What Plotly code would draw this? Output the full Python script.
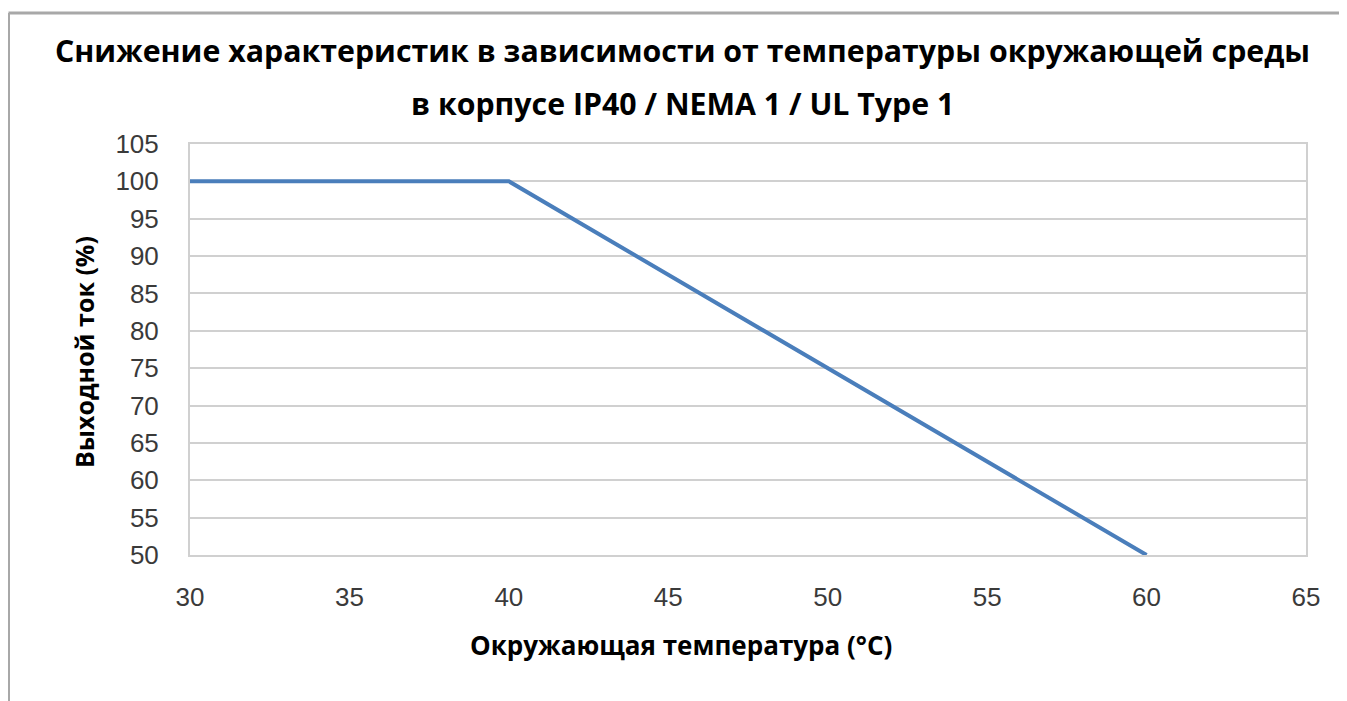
import plotly.graph_objects as go

# Data
temperature_c = [30, 40, 60]
output_current_pct = [100, 100, 50]
x_ticks = [30, 35, 40, 45, 50, 55, 60, 65]
y_ticks = [50, 55, 60, 65, 70, 75, 80, 85, 90, 95, 100, 105]

title_line1 = "Снижение характеристик в зависимости от температуры окружающей среды"
title_line2 = "в корпусе IP40 / NEMA 1 / UL Type 1"
x_title = "Окружающая температура (°C)"
y_title = "Выходной ток (%)"

OFF = 8  # page body margin
W, H = 1347 - OFF, 701 - OFF
PL, PR, PT, PB = 190, 1306, 144, 555  # plot area in page pixels
L, R, T, B = PL - OFF, (1347 - PR), PT - OFF, (701 - PB)
PW, PH = PR - PL, PB - PT

def px(x):
    return (x - PL) / PW

def py(y):
    return (PB - y) / PH

fig = go.Figure()
fig.add_trace(go.Scatter(
    x=temperature_c, y=output_current_pct, mode="lines",
    line=dict(color="#4a7ebb", width=4), showlegend=False, hoverinfo="x+y",
))

tick_font = dict(family="Liberation Sans, Arial, sans-serif", size=26, color="#3a3a3a")
title_font_family = "Open Sans, Noto Sans, sans-serif"

fig.update_xaxes(
    range=[30, 65], tickvals=x_ticks, ticktext=[str(v) for v in x_ticks],
    showgrid=False, zeroline=False, showline=True, mirror=True,
    linecolor="#d0d0d0", linewidth=2, ticks="", tickfont=tick_font,
    ticklabelstandoff=18,
)
fig.update_yaxes(
    range=[50, 105], tickvals=y_ticks, ticktext=[str(v) for v in y_ticks],
    showgrid=True, gridcolor="#d0d0d0", gridwidth=2, zeroline=False,
    showline=True, mirror=True, linecolor="#d0d0d0", linewidth=2,
    ticks="", tickfont=tick_font, ticklabelstandoff=24,
)

annotations = [
    dict(text=title_line1, x=px(682.5), y=py(50), xref="paper", yref="paper",
         xanchor="center", yanchor="middle", showarrow=False,
         font=dict(family=title_font_family, size=30.3, color="#000000", weight="bold")),
    dict(text=title_line2, x=px(682.5), y=py(103), xref="paper", yref="paper",
         xanchor="center", yanchor="middle", showarrow=False,
         font=dict(family=title_font_family, size=30.3, color="#000000", weight="bold")),
    dict(text=x_title, x=px(680.5), y=py(645), xref="paper", yref="paper",
         xanchor="center", yanchor="middle", showarrow=False,
         font=dict(family=title_font_family, size=26, color="#000000", weight="bold")),
    dict(text=y_title, x=px(84), y=py(352), xref="paper", yref="paper",
         xanchor="center", yanchor="middle", showarrow=False, textangle=-90,
         font=dict(family=title_font_family, size=25, color="#000000", weight="bold")),
]

shapes = [
    dict(type="line", xref="paper", yref="paper", x0=px(8.5), x1=px(1347), y0=py(13), y1=py(13),
         line=dict(color="#a8a8a8", width=3)),
    dict(type="line", xref="paper", yref="paper", x0=px(8.5), x1=px(8.5), y0=py(13), y1=py(701),
         line=dict(color="#a8a8a8", width=3)),
]

fig.update_layout(
    width=W, height=H, margin=dict(l=L, r=R, t=T, b=B),
    paper_bgcolor="white", plot_bgcolor="white",
    annotations=annotations, shapes=shapes,
)

fig.write_html("out.html")
